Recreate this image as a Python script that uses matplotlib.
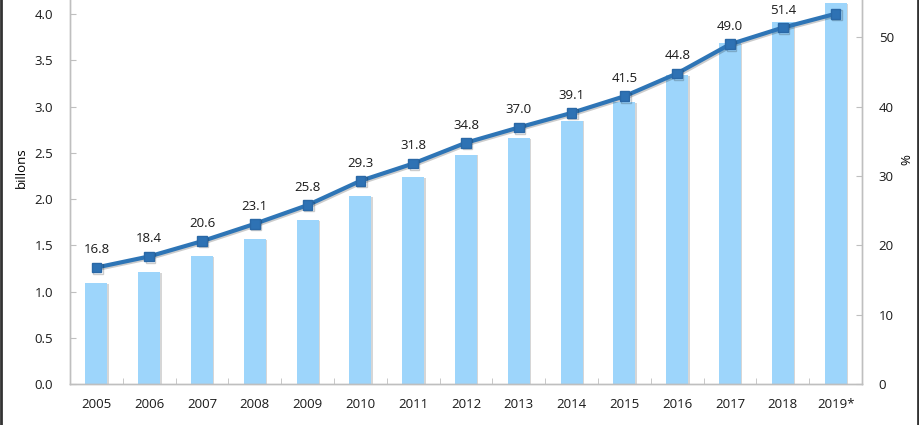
import matplotlib.pyplot as plt
import matplotlib.patheffects as pe
from matplotlib.lines import Line2D

years = ["2005", "2006", "2007", "2008", "2009", "2010", "2011", "2012",
         "2013", "2014", "2015", "2016", "2017", "2018", "2019*"]
# bars, billions (left axis)
billions = [1.09, 1.21, 1.38, 1.57, 1.77, 2.03, 2.24, 2.48,
            2.66, 2.85, 3.05, 3.34, 3.69, 3.92, 4.12]
# line, percent (right axis)
percent = [16.8, 18.4, 20.6, 23.1, 25.8, 29.3, 31.8, 34.8,
           37.0, 39.1, 41.5, 44.8, 49.0, 51.4, 53.4]

plt.rcParams['font.family'] = ['Open Sans', 'DejaVu Sans']
plt.rcParams['font.size'] = 9.5

fig = plt.figure(figsize=(9.2, 4.25), dpi=100)
# plot area runs past the top edge, like the cropped original
ax = fig.add_axes([70 / 920, 41 / 425, 792 / 920, 416 / 425])
ax2 = ax.twinx()

x = range(len(years))
bars = ax.bar(x, billions, width=0.42, color="#9DD5FB", zorder=2)
for b in bars:
    b.set_path_effects([pe.SimplePatchShadow(offset=(1, -0.5), shadow_rgbFace="#8a8a8a", alpha=0.35),
                        pe.Normal()])

ax.set_xlim(-0.5, len(years) - 0.5)
ax.set_ylim(0, 4.5)
ax.set_yticks([0, 0.5, 1, 1.5, 2, 2.5, 3, 3.5, 4])
ax.set_yticklabels([f"{v:.1f}" for v in [0, 0.5, 1, 1.5, 2, 2.5, 3, 3.5, 4]])
ax.set_xticks(list(x))
ax.set_xticklabels(years)
ax.set_xticks([i + 0.5 for i in range(len(years) - 1)], minor=True)
ax.tick_params(axis="x", which="major", length=0, pad=10, colors="#1a1a1a")
ax.tick_params(axis="x", which="minor", direction="in", length=4, color="#bfbfbf")
ax.tick_params(axis="y", direction="in", length=4, color="#bfbfbf", colors="#1a1a1a", pad=12)
ax.set_ylabel("billons")
ax.yaxis.set_label_coords(-0.053, 0.52)

ax2.set_ylim(0, 60.0)
ax2.set_yticks([0, 10, 20, 30, 40, 50])
ax2.tick_params(axis="y", direction="in", length=4, color="#bfbfbf", colors="#1a1a1a", pad=12)
ax2.set_ylabel("%", rotation=90)
ax2.yaxis.set_label_coords(1.048, 0.54)

ax2.plot(x, percent, color="#2E75B6", lw=3, marker="s", markersize=7,
         markerfacecolor="#2E72B4", markeredgecolor="#2A68A6", zorder=3,
         path_effects=[pe.SimpleLineShadow(offset=(1, -1), alpha=0.2), pe.Normal()])
# the label of the last point sits above the cropped top edge
for i, v in enumerate(percent[:-1]):
    ax2.annotate(f"{v:.1f}", (i, v), xytext=(0, 8), textcoords="offset points",
                 ha="center", va="bottom", color="#1a1a1a")

for a in (ax, ax2):
    a.spines["top"].set_visible(False)
    for s in ("left", "right", "bottom"):
        a.spines[s].set_color("#bfbfbf")
        a.spines[s].set_linewidth(1)
ax.set_zorder(ax2.get_zorder() - 1)
ax2.patch.set_visible(False)

# dark frame on the left and right edges of the picture
fig.add_artist(Line2D([0.001, 0.001], [0, 1], color="#333333", lw=2, transform=fig.transFigure))
fig.add_artist(Line2D([0.9975, 0.9975], [0, 1], color="#333333", lw=2, transform=fig.transFigure))

fig.savefig("out.png", dpi=100)
